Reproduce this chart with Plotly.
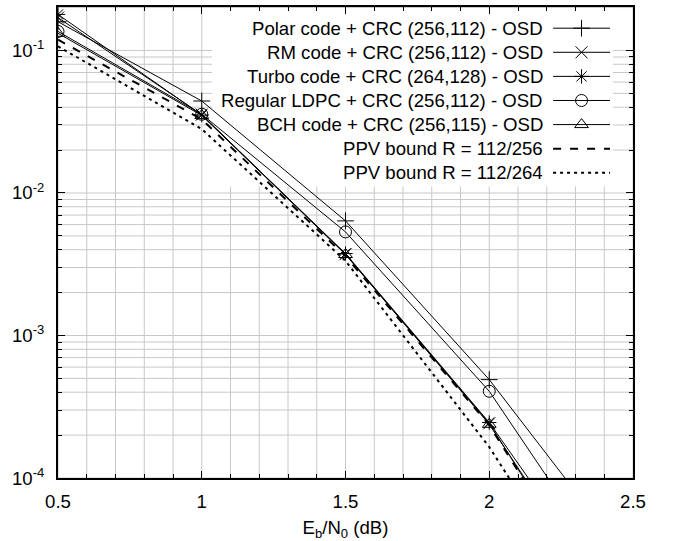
import math
import plotly.graph_objects as go

# ---------------- data ----------------
ebn0 = [0.5, 1.0, 1.5, 2.0, 2.5]
polar = [0.159, 0.0442, 0.00637, 4.9e-4, 2.4e-5]
rm = [0.170, 0.0355, 0.00372, 2.42e-4, 6e-6]
turbo = [0.179, 0.0352, 0.00376, 2.45e-4, 9e-6]
ldpc = [0.136, 0.0357, 0.00533, 4.06e-4, 1.3e-5]
bch = [0.132, 0.0350, 0.00370, 2.38e-4, 7e-6]
ppv256 = [0.119, 0.0329, 0.0036, 2.35e-4, 5.8e-6]
ppv264 = [0.107, 0.0281, 0.00334, 1.65e-4, 4.4e-6]

names = [
    "Polar code + CRC (256,112) - OSD",
    "RM code + CRC (256,112) - OSD",
    "Turbo code + CRC (264,128) - OSD",
    "Regular LDPC + CRC (256,112) - OSD",
    "BCH code + CRC (256,115) - OSD",
    "PPV bound R = 112/256",
    "PPV bound R = 112/264",
]
series = [polar, rm, turbo, ldpc, bch, ppv256, ppv264]
symbols = ["cross-thin-open", "x-thin-open", "asterisk-open", "circle-open",
           "triangle-up-open", None, None]
dashes = ["solid"] * 5 + ["8px,9px", "3px,4px"]
widths = [1] * 5 + [2, 2]

x_major = [0.5, 1.0, 1.5, 2.0, 2.5]
x_major_text = ["0.5", "1", "1.5", "2", "2.5"]
x_minor = [round(0.5 + 0.1 * i, 1) for i in range(21)]
y_major = [1e-4, 1e-3, 1e-2, 1e-1]
y_major_text = ["10<sup>-4</sup>", "10<sup>-3</sup>", "10<sup>-2</sup>", "10<sup>-1</sup>"]
y_minor = [k * 10 ** e for e in range(-4, 0) for k in range(1, 10) if k * 10 ** e <= 0.2]

XR = [0.5, 2.5]
YR = [-4, -0.695]
FONT = "Liberation Sans, Arial, Helvetica, sans-serif"
FS = 18.6
GRID = "#c8c8c8"

fig = go.Figure()

for name, ys, sym, dsh, w in zip(names, series, symbols, dashes, widths):
    fig.add_trace(go.Scatter(
        x=ebn0, y=ys, name=name,
        mode="lines+markers" if sym else "lines",
        line=dict(color="black", width=w, dash=dsh),
        marker=dict(symbol=sym, size=12, color="black",
                    line=dict(color="black", width=1)) if sym else None,
        showlegend=False, cliponaxis=True,
    ))


def px_(v):  # x axis value -> fraction of plot width
    return (v - XR[0]) / (XR[1] - XR[0])


def py_(v):  # y axis value (log) -> fraction of plot height
    return (math.log10(v) - YR[0]) / (YR[1] - YR[0])


def fx(f):
    return XR[0] + f * (XR[1] - XR[0])


def fy(f):
    return 10 ** (YR[0] + f * (YR[1] - YR[0]))


# grid drawn as shapes below everything so the key box can hide it
for xv in x_minor:
    f = px_(xv)
    fig.add_shape(type="line", xref="paper", yref="paper", x0=f, x1=f, y0=0, y1=1,
                  line=dict(color=GRID, width=1), layer="below")
for yv in y_minor:
    f = py_(yv)
    if 0 <= f <= 1:
        fig.add_shape(type="line", xref="paper", yref="paper", x0=0, x1=1, y0=f, y1=f,
                      line=dict(color=GRID, width=1), layer="below")

# white key box
fig.add_shape(type="rect", xref="paper", yref="paper",
              x0=0.268, x1=0.965, y0=0.619, y1=0.997,
              fillcolor="white", line=dict(width=0), layer="below")

# custom key: text right-aligned, sample to its right
row_top = 0.955
row_step = 24.2 / 473
lx0, lx1 = 0.861, 0.960
for i, (name, sym, dsh, w) in enumerate(zip(names, symbols, dashes, widths)):
    yy = row_top - i * row_step
    fig.add_shape(type="line", xref="paper", yref="paper",
                  x0=lx0, x1=lx1, y0=yy, y1=yy,
                  line=dict(color="black", width=w, dash=dsh))
    if sym:
        fig.add_trace(go.Scatter(
            x=[fx((lx0 + lx1) / 2)], y=[fy(yy)], mode="markers",
            marker=dict(symbol=sym, size=12, color="black",
                        line=dict(color="black", width=1)),
            showlegend=False, hoverinfo="skip", cliponaxis=False))
    fig.add_annotation(
        x=0.847, y=yy, xref="paper", yref="paper", text=name,
        showarrow=False, xanchor="right", yanchor="middle",
        font=dict(family=FONT, size=FS, color="black"))

fig.update_layout(
    width=675, height=541,
    margin=dict(l=58, r=42, t=5, b=63),
    paper_bgcolor="white", plot_bgcolor="rgba(0,0,0,0)",
    font=dict(family=FONT, size=FS, color="black"),
    xaxis=dict(
        range=XR, tickvals=x_major, ticktext=x_major_text,
        showgrid=False,
        ticks="inside", ticklen=7, tickcolor="black", tickwidth=1,
        showline=True, linecolor="black", linewidth=2, mirror="allticks",
        zeroline=False, ticklabelstandoff=6,
        minor=dict(tickvals=x_minor, showgrid=False,
                   ticks="inside", ticklen=4, tickcolor="black"),
        title=dict(text="E<sub>b</sub>/N<sub>0</sub> (dB)",
                   font=dict(family=FONT, size=FS), standoff=10),
    ),
    yaxis=dict(
        type="log", range=YR,
        tickvals=y_major, ticktext=y_major_text,
        showgrid=False,
        ticks="inside", ticklen=7, tickcolor="black", tickwidth=1,
        showline=True, linecolor="black", linewidth=2, mirror="allticks",
        zeroline=False, ticklabelstandoff=8,
        minor=dict(tickvals=[v for v in y_minor if v not in y_major], showgrid=False,
                   ticks="inside", ticklen=4, tickcolor="black"),
    ),
)

fig.write_html("out.html")
